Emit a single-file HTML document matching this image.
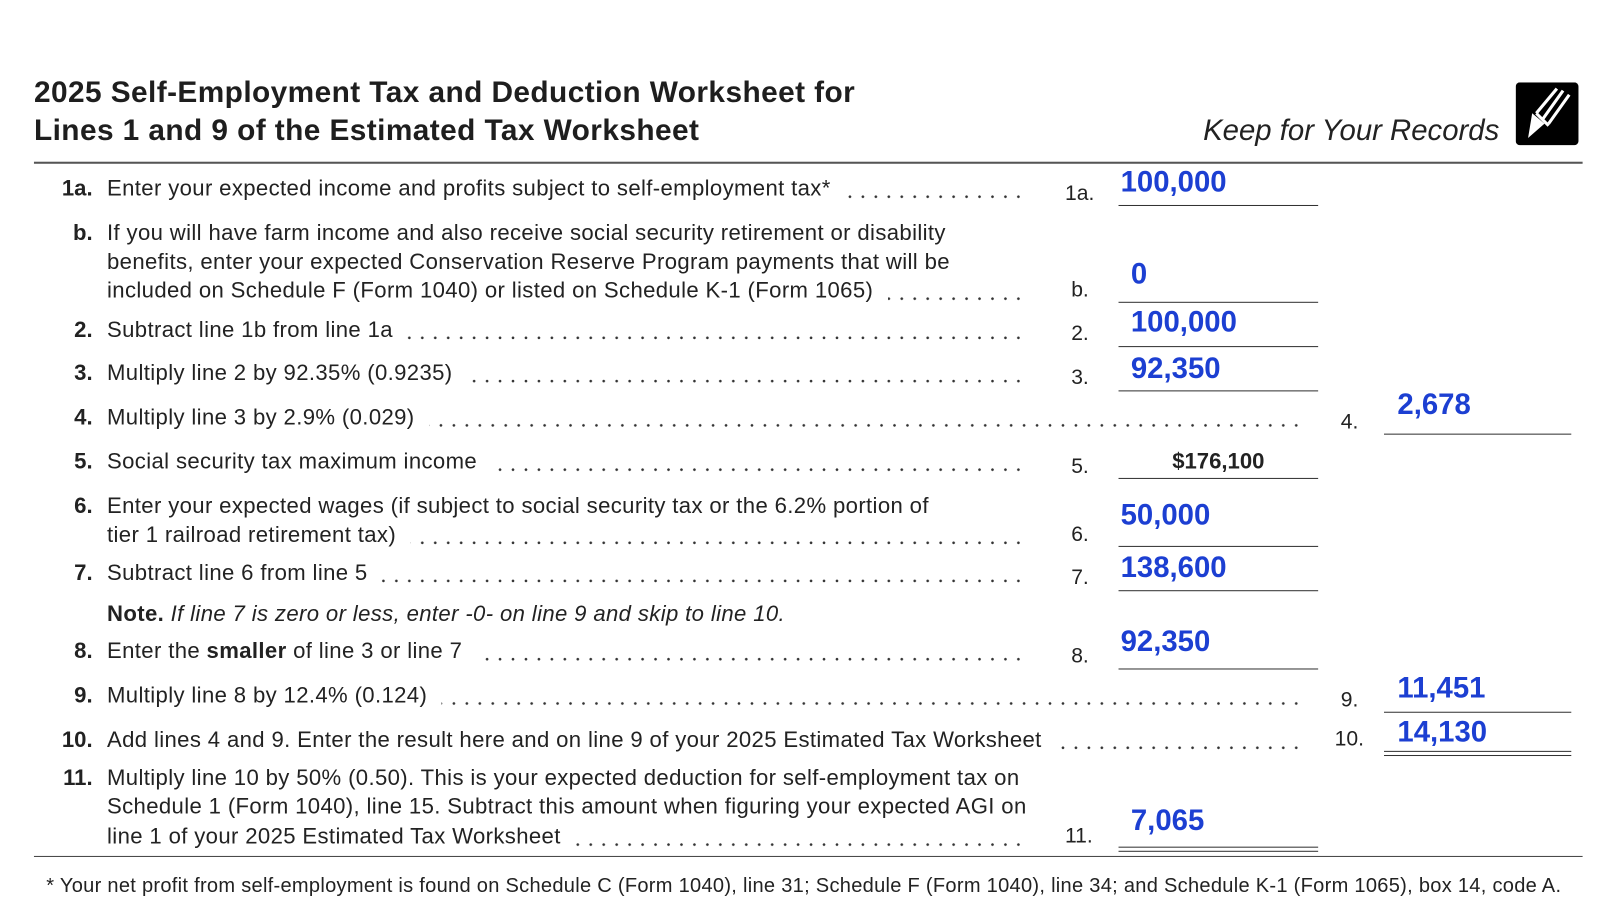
<!DOCTYPE html>
<html><head><meta charset="utf-8"><style>
html,body{margin:0;padding:0;background:#fff;width:1614px;height:910px;overflow:hidden}
#w{position:absolute;left:0;top:0;width:1560px;height:880px;transform:scale(1.029,1.03);transform-origin:0 0;font-family:"Liberation Sans",sans-serif;color:#222}
.a{position:absolute;white-space:nowrap}
.t{font-size:21.5px;line-height:28px;letter-spacing:0.35px}
.n{font-weight:bold;text-align:right;width:40px;letter-spacing:0}
.d{position:absolute;height:28px;background-image:radial-gradient(circle,#333 1.1px,transparent 1.5px);background-size:12.6px 4px;background-repeat:repeat-x;background-position:right 20px}
.bg{background:#fff;padding-right:14px}
.v{font-weight:bold;color:#1c3fd2;font-size:28.5px;line-height:30px}
.u{position:absolute;height:0;border-top:1.5px solid #333}
.lb{font-size:20.5px;line-height:28px}
</style></head><body><div id="w">
<div class="a" style="left:33px;top:72px;font-weight:bold;font-size:29px;line-height:37px;letter-spacing:0.4px;color:#1e1e1e">2025 Self-Employment Tax and Deduction Worksheet for<br>Lines 1 and 9 of the Estimated Tax Worksheet</div>
<div class="a" style="right:103px;top:109px;font-style:italic;font-size:28.5px;line-height:36px">Keep for Your Records</div>
<svg class="a" style="left:1473px;top:80px" width="61" height="61" viewBox="0 0 61 61"><rect width="61" height="61" rx="4" fill="#000"/><path d="M20 30 L40 6 M26 36 L46 8 M32 40 L52 12" stroke="#fff" stroke-width="3"/><path d="M16 30 L28 40 L12 54 Z" fill="#fff"/><path d="M20 30 L32 42" stroke="#fff" stroke-width="3"/></svg>
<div class="u" style="left:33px;top:157px;width:1505px;border-top:2px solid #555"></div>

<div class="a t n" style="left:50px;top:169px">1a.</div>
<div class="d" style="left:104px;width:892px;top:169px"></div>
<div class="a t" style="left:104px;top:169px"><span class="bg">Enter your expected income and profits subject to self-employment tax*</span></div>
<div class="a lb" style="left:1035px;top:174px">1a.</div>
<div class="a v" style="left:1089px;top:162px">100,000</div>
<div class="u" style="left:1087px;top:199px;width:194px"></div>

<div class="a t n" style="left:50px;top:212px">b.</div>
<div class="a t" style="left:104px;top:212px">If you will have farm income and also receive social security retirement or disability<br>benefits, enter your expected Conservation Reserve Program payments that will be</div>
<div class="d" style="left:104px;width:892px;top:268px"></div>
<div class="a t" style="left:104px;top:268px"><span class="bg">included on Schedule F (Form 1040) or listed on Schedule K-1 (Form 1065)</span></div>
<div class="a lb" style="left:1041px;top:268px">b.</div>
<div class="a v" style="left:1099px;top:251px">0</div>
<div class="u" style="left:1087px;top:293px;width:194px"></div>

<div class="a t n" style="left:50px;top:306px">2.</div>
<div class="d" style="left:104px;width:892px;top:306px"></div>
<div class="a t" style="left:104px;top:306px"><span class="bg">Subtract line 1b from line 1a</span></div>
<div class="a lb" style="left:1041px;top:310px">2.</div>
<div class="a v" style="left:1099px;top:298px">100,000</div>
<div class="u" style="left:1087px;top:336px;width:194px"></div>

<div class="a t n" style="left:50px;top:348px">3.</div>
<div class="d" style="left:104px;width:892px;top:348px"></div>
<div class="a t" style="left:104px;top:348px"><span class="bg">Multiply line 2 by 92.35% (0.9235)</span></div>
<div class="a lb" style="left:1041px;top:353px">3.</div>
<div class="a v" style="left:1099px;top:343px">92,350</div>
<div class="u" style="left:1087px;top:379px;width:194px"></div>

<div class="a t n" style="left:50px;top:391px">4.</div>
<div class="d" style="left:104px;width:1162px;top:391px"></div>
<div class="a t" style="left:104px;top:391px"><span class="bg">Multiply line 3 by 2.9% (0.029)</span></div>
<div class="a lb" style="left:1303px;top:396px">4.</div>
<div class="a v" style="left:1358px;top:378px">2,678</div>
<div class="u" style="left:1345px;top:421px;width:182px"></div>

<div class="a t n" style="left:50px;top:434px">5.</div>
<div class="d" style="left:104px;width:892px;top:434px"></div>
<div class="a t" style="left:104px;top:434px"><span class="bg">Social security tax maximum income</span></div>
<div class="a lb" style="left:1041px;top:439px">5.</div>
<div class="a" style="left:1087px;width:194px;text-align:center;top:434px;font-weight:bold;font-size:21.5px;line-height:28px">$176,100</div>
<div class="u" style="left:1087px;top:464px;width:194px"></div>

<div class="a t n" style="left:50px;top:477px">6.</div>
<div class="a t" style="left:104px;top:477px">Enter your expected wages (if subject to social security tax or the 6.2% portion of</div>
<div class="d" style="left:104px;width:892px;top:505px"></div>
<div class="a t" style="left:104px;top:505px"><span class="bg">tier 1 railroad retirement tax)</span></div>
<div class="a lb" style="left:1041px;top:505px">6.</div>
<div class="a v" style="left:1089px;top:485px">50,000</div>
<div class="u" style="left:1087px;top:530px;width:194px"></div>

<div class="a t n" style="left:50px;top:542px">7.</div>
<div class="d" style="left:104px;width:892px;top:542px"></div>
<div class="a t" style="left:104px;top:542px"><span class="bg">Subtract line 6 from line 5</span></div>
<div class="a lb" style="left:1041px;top:547px">7.</div>
<div class="a v" style="left:1089px;top:536px">138,600</div>
<div class="u" style="left:1087px;top:573px;width:194px"></div>

<div class="a t" style="left:104px;top:582px"><b>Note.</b> <i>If line 7 is zero or less, enter -0- on line 9 and skip to line 10.</i></div>

<div class="a t n" style="left:50px;top:618px">8.</div>
<div class="d" style="left:104px;width:892px;top:618px"></div>
<div class="a t" style="left:104px;top:618px"><span class="bg">Enter the <b>smaller</b> of line 3 or line 7</span></div>
<div class="a lb" style="left:1041px;top:623px">8.</div>
<div class="a v" style="left:1089px;top:608px">92,350</div>
<div class="u" style="left:1087px;top:649px;width:194px"></div>

<div class="a t n" style="left:50px;top:661px">9.</div>
<div class="d" style="left:104px;width:1162px;top:661px"></div>
<div class="a t" style="left:104px;top:661px"><span class="bg">Multiply line 8 by 12.4% (0.124)</span></div>
<div class="a lb" style="left:1303px;top:666px">9.</div>
<div class="a v" style="left:1358px;top:653px">11,451</div>
<div class="u" style="left:1345px;top:691px;width:182px"></div>

<div class="a t n" style="left:50px;top:704px">10.</div>
<div class="d" style="left:104px;width:1162px;top:704px"></div>
<div class="a t" style="left:104px;top:704px"><span class="bg">Add lines 4 and 9. Enter the result here and on line 9 of your 2025 Estimated Tax Worksheet</span></div>
<div class="a lb" style="left:1297px;top:704px">10.</div>
<div class="a v" style="left:1358px;top:696px">14,130</div>
<div class="u" style="left:1345px;top:729px;width:182px"></div>
<div class="u" style="left:1345px;top:733px;width:182px"></div>

<div class="a t n" style="left:50px;top:741px">11.</div>
<div class="a t" style="left:104px;top:741px">Multiply line 10 by 50% (0.50). This is your expected deduction for self-employment tax on<br>Schedule 1 (Form 1040), line 15. Subtract this amount when figuring your expected AGI on</div>
<div class="d" style="left:104px;width:892px;top:798px"></div>
<div class="a t" style="left:104px;top:798px"><span class="bg">line 1 of your 2025 Estimated Tax Worksheet</span></div>
<div class="a lb" style="left:1035px;top:798px">11.</div>
<div class="a v" style="left:1099px;top:782px">7,065</div>
<div class="u" style="left:1087px;top:822px;width:194px"></div>
<div class="u" style="left:1087px;top:826px;width:194px"></div>

<div class="u" style="left:33px;top:831px;width:1505px;border-top:1.5px solid #444"></div>
<div class="a" style="left:45px;top:848px;font-size:19.5px;line-height:24px;letter-spacing:0.27px">* Your net profit from self-employment is found on Schedule C (Form 1040), line 31; Schedule F (Form 1040), line 34; and Schedule K-1 (Form 1065), box 14, code A.</div>
</div></body></html>
